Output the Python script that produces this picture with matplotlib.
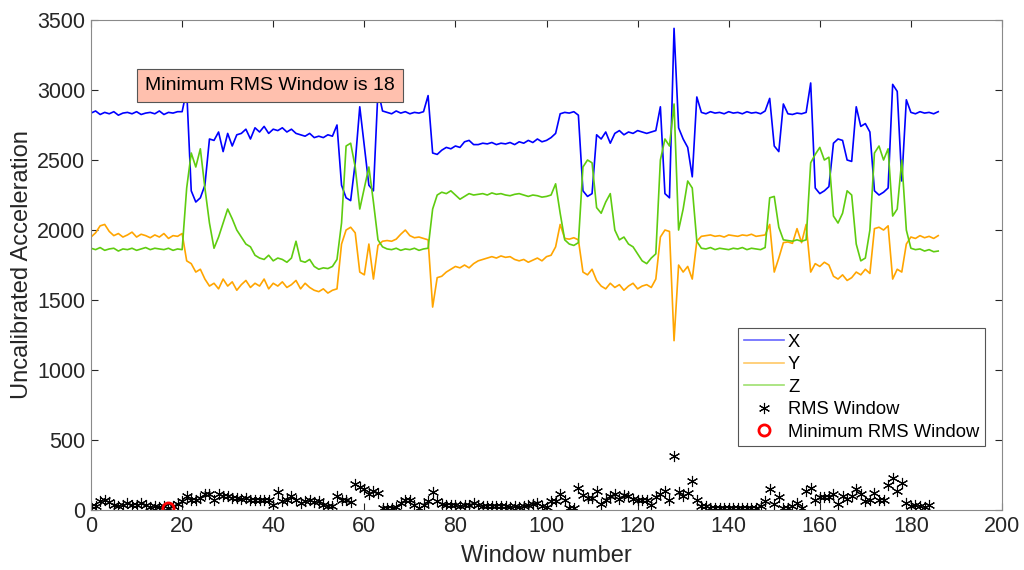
# Accelerometer windows with RMS per window
import numpy as np
import matplotlib.pyplot as plt

plt.rcParams['font.family'] = ['Liberation Sans', 'DejaVu Sans']

# Signal level per window
x_vals = [2835, 2850, 2825, 2840, 2830, 2845, 2820, 2835, 2840, 2830, 2845, 2825, 2835, 2840, 2830, 2850, 2825, 2840, 2835, 2845,
          2845, 3000, 2280, 2200, 2230, 2320, 2650,
          2640, 2700, 2560, 2690, 2600, 2680,
          2690, 2720, 2650, 2730, 2700, 2740, 2690, 2720, 2710, 2730, 2700, 2720, 2690,
          2680, 2670, 2690, 2660, 2670, 2660, 2680, 2670,
          2750, 2320, 2230, 2210, 2480, 2880, 2600, 2320, 2280, 3000, 2850,
          2840, 2830, 2850, 2835, 2845, 2830, 2840, 2835, 2845,
          2960, 2550, 2540, 2570, 2590, 2580, 2600, 2590, 2630, 2640, 2610,
          2610, 2620, 2615, 2625, 2610, 2620, 2615, 2625, 2610, 2630, 2620, 2640, 2625, 2650, 2630, 2640, 2660,
          2690, 2830, 2840, 2835, 2845, 2820, 2280, 2240, 2260, 2680,
          2650, 2700, 2620, 2690, 2710, 2680, 2700, 2690, 2710, 2700, 2690, 2700, 2710,
          2880, 2260, 2230, 3440, 2730, 2650, 2590, 2380, 2950,
          2840, 2830, 2845, 2835, 2840, 2830, 2845, 2835, 2840, 2830, 2845, 2835, 2840, 2830, 2850,
          2940, 2600, 2560, 2900, 2830, 2825, 2835, 2830, 2840,
          3050, 2300, 2260, 2280, 2310,
          2620, 2650, 2640, 2500, 2490, 2880, 2740, 2760, 2700, 2280, 2250, 2270, 2300, 3040, 2990, 2350, 2930,
          2840, 2830, 2845, 2835, 2840, 2830, 2845]

y_vals = [1950, 1980, 2030, 2040, 1990, 1960, 1975, 1950, 1965, 1985, 1950, 1970, 1960, 1945, 1965, 1950, 1975, 1940, 1960, 1955, 1975,
          1780, 1760, 1700, 1720, 1650, 1600,
          1620, 1580, 1650, 1600, 1630, 1570, 1610, 1640, 1590, 1620, 1600, 1650, 1580, 1620, 1600, 1630, 1590, 1610, 1640, 1580,
          1620, 1590, 1570, 1560, 1580, 1550, 1570,
          1580, 1900, 2000, 2020, 1980, 1700, 1680, 1900, 1650, 1890, 1920,
          1925, 1920, 1935, 1970, 2000, 1960, 1945, 1950, 1940,
          1930, 1450, 1660, 1670, 1700, 1720, 1740, 1730, 1750, 1730, 1760,
          1780, 1790, 1800, 1810, 1800, 1815, 1805, 1810, 1790, 1780, 1790, 1770, 1785, 1800, 1780, 1810, 1820,
          1880, 2040, 1940, 1935, 1945, 1930, 1700, 1680, 1720,
          1640, 1600, 1580, 1620, 1590, 1610, 1570, 1600, 1620, 1580, 1600, 1610, 1590, 1650,
          1950, 2000, 1990, 1210, 1750, 1700, 1740, 1650, 1920,
          1955, 1960, 1965, 1955, 1960, 1950, 1965, 1960, 1955, 1965, 1960, 1970, 1955, 1960, 1965,
          2040, 1700, 1800, 1910, 1915, 1905, 2010, 1910, 2040, 1700,
          1760, 1740, 1770, 1750,
          1670, 1650, 1680, 1640, 1660,
          1700, 1680, 1720, 1690,
          2010, 2020, 2000, 2030,
          1650, 1720, 1700, 1900,
          1950, 1940, 1960, 1945, 1955, 1940, 1960]

z_vals = [1870, 1860, 1875, 1855, 1865, 1870, 1850, 1865, 1860, 1870, 1855, 1865, 1875, 1860, 1870, 1865, 1860, 1870, 1855, 1865, 1860,
          2300, 2550, 2450, 2580, 2300, 2050, 1870, 1950, 2050, 2150, 2080, 2000,
          1950, 1900, 1880, 1820, 1800, 1790, 1820, 1780, 1800,
          1790, 1770, 1800, 1920, 1780, 1770, 1790,
          1740, 1720, 1730, 1725, 1740,
          1790, 2050, 2600, 2620, 2450, 2150, 2300, 2450, 2200, 1930, 1880,
          1865, 1860, 1870, 1855, 1865, 1860, 1870, 1855, 1865,
          1870, 2150, 2250, 2270, 2260, 2280, 2250, 2220, 2240, 2260, 2250,
          2255, 2260, 2250, 2265, 2255, 2260, 2250, 2245, 2255, 2260, 2250, 2240, 2250, 2245, 2235, 2240, 2250,
          2330, 2120, 1930, 1900, 1890, 1910, 2450, 2500, 2480, 2160,
          2120, 2200, 2260, 2000, 1930, 1950, 1900, 1880, 1830, 1780, 1760, 1800, 1830,
          2500, 2650, 2600, 2900, 2000, 2150, 2350, 2300, 1920,
          1870, 1865, 1875, 1860, 1870, 1865, 1860, 1870, 1865, 1875, 1860, 1870, 1865, 1860, 1875,
          2230, 2240, 2020, 1930, 1925, 1920, 1930, 1920, 1930, 2480,
          2540, 2590, 2500, 2520,
          2100, 2050, 2120,
          2280, 2250,
          1900, 1780, 1800, 2000,
          2550, 2600, 2500, 2580,
          2100, 2150, 2500, 2000,
          1870, 1860, 1865, 1850, 1860, 1845, 1850]

# RMS of each window
rms_vals = [29, 29, 64, 76, 60, 40, 29, 36, 52, 36, 40, 52, 36, 21, 29, 21, 29, 12, 29, 45,
            64, 100, 69, 76, 88, 117, 112, 69, 112, 100, 100, 88, 88, 83, 88, 76, 69, 69, 69, 76,
            36, 131, 64, 76, 100, 76, 52, 64, 76, 60, 64, 40, 29, 29, 100, 76, 76, 60, 188, 164,
            148, 112, 136, 124, 17, 17, 17, 21, 52, 76, 76, 40, 17, 36, 64, 131, 64, 45, 40, 36,
            36, 29, 40, 40, 52, 40, 29, 29, 29, 29, 29, 29, 21, 29, 21, 29, 40, 45, 52, 29,
            21, 64, 64, 117, 76, 17, 17, 155, 107, 88, 88, 140, 45, 76, 100, 117, 83, 107, 100, 83,
            76, 69, 69, 40, 93, 117, 140, 76, 390, 131, 100, 124, 207, 69, 29, 29, 17, 17, 17, 17,
            17, 17, 17, 17, 17, 17, 17, 29, 64, 148, 45, 93, 17, 17, 29, 52, 17, 136, 155, 76,
            93, 93, 93, 112, 45, 100, 83, 100, 148, 112, 64, 69, 124, 69, 69, 179, 231, 140, 195, 52,
            29, 40, 29, 21, 40]

min_idx = int(np.argmin(rms_vals))

fig = plt.figure(figsize=(10.24, 5.70), dpi=100)
ax = fig.add_axes([0.0889, 0.105, 0.8896, 0.86])

ax.plot(np.arange(len(x_vals)), x_vals, color='#0000FF', lw=1.2, label='X')
ax.plot(np.arange(len(y_vals)), y_vals, color='#FFA500', lw=1.2, label='Y')
ax.plot(np.arange(len(z_vals)), z_vals, color='#5FCC10', lw=1.2, label='Z')
ax.plot(np.arange(len(rms_vals)), rms_vals, linestyle='none', marker=(6, 2, 0),
        markersize=8, mec='k', mew=0.8, color='k', label='RMS Window')
ax.plot(min_idx, rms_vals[min_idx], linestyle='none', marker='o', markersize=8,
        mfc='none', mec='red', mew=2, label='Minimum RMS Window')

ax.set_xlim(0, 200)
ax.set_ylim(0, 3500)
ax.set_xticks(np.arange(0, 201, 20))
ax.set_yticks(np.arange(0, 3501, 500))
ax.tick_params(direction='in', length=5, top=True, right=True, labelsize=15.5,
               colors='#262626', pad=4)
for sp in ax.spines.values():
    sp.set_color('#8a8a8a')

ax.set_xlabel('Window number', fontsize=17, color='#262626', labelpad=6)
ax.set_ylabel('Uncalibrated Acceleration', fontsize=17, color='#262626', labelpad=3)

ax.text(0.0595, 0.866, 'Minimum RMS Window is ' + str(min_idx + 1), transform=ax.transAxes,
        fontsize=14, va='center', ha='left',
        bbox=dict(boxstyle='square,pad=0.4', fc='#FFC0AE', ec='#555555', lw=0.8))

leg = ax.legend(loc='upper right', bbox_to_anchor=(0.981, 0.371), fontsize=13.2,
                fancybox=False, framealpha=1, edgecolor='#555555', borderaxespad=0,
                handlelength=2.2, handletextpad=0.2, borderpad=0.3, labelspacing=0.3)
leg.get_frame().set_linewidth(0.8)
for h in leg.get_lines()[:3]:
    h.set_alpha(0.6)

fig.savefig('out.png', dpi=100)
